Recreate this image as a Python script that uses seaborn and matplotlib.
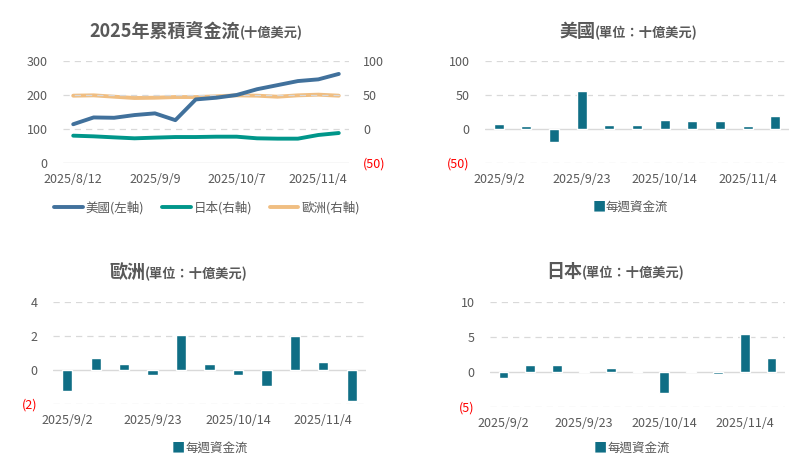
import matplotlib
matplotlib.use("Agg")
import matplotlib.pyplot as plt
import seaborn as sns
import pandas as pd
from matplotlib.lines import Line2D

# cumulative flows, weekly from 2025/8/12
cum_dates = ["2025/8/12", "2025/8/19", "2025/8/26", "2025/9/2", "2025/9/9", "2025/9/16",
             "2025/9/23", "2025/9/30", "2025/10/7", "2025/10/14", "2025/10/21",
             "2025/10/28", "2025/11/4", "2025/11/11"]
cum_us = [114, 134, 133, 141, 146, 126, 187, 192, 200, 217, 229, 241, 246, 262]
cum_jp = [-9.8, -10.8, -12.3, -13.7, -12.7, -11.8, -11.8, -11.3, -11.3, -13.7, -14.2, -14.2, -8.8, -5.9]
cum_eu = [49.0, 49.5, 47.5, 45.6, 46.0, 47.0, 47.0, 48.0, 49.5, 49.0, 47.5, 49.5, 50.5, 49.0]

# weekly flows, from 2025/9/2
week_dates = ["2025/9/2", "2025/9/9", "2025/9/16", "2025/9/23", "2025/9/30", "2025/10/7",
              "2025/10/14", "2025/10/21", "2025/10/28", "2025/11/4", "2025/11/11"]
wk_us = [7.4, 4.4, -18.6, 56.4, 5.9, 5.9, 13.2, 11.8, 11.8, 4.4, 19.1]
wk_eu = [-1.22, 0.73, 0.37, -0.27, 2.08, 0.37, -0.27, -0.96, 2.02, 0.49, -1.8]
wk_jp = [-0.9, 1.04, 1.04, 0.19, 0.61, 0.19, -3.07, 0.19, -0.24, 5.42, 2.03]

sns.set_style("white")
plt.rcParams["font.family"] = ["Noto Sans CJK TC", "DejaVu Sans"]

GRAY = "#595959"
GRID = "#d9d9d9"
BAR = "#0f6e85"
C_US, C_JP, C_EU = "#41719c", "#00968a", "#f0be82"
TICK = 9

W, H = 811, 473
fig = plt.figure(figsize=(W / 100, H / 100), dpi=100)


def box(x0, y0, x1, y1):
    return [x0 / W, 1 - y1 / H, (x1 - x0) / W, (y1 - y0) / H]


def fmt(v):
    return f"({abs(v)})" if v < 0 else f"{v}"


def style_y(ax, ticks, side="left"):
    ax.set_ylim(ticks[0], ticks[-1])
    ax.set_yticks(ticks)
    ax.set_yticklabels([fmt(t) for t in ticks])
    for lab, t in zip(ax.get_yticklabels(), ticks):
        lab.set_color("red" if t < 0 else GRAY)
    ax.tick_params(axis="y", length=0, labelsize=TICK, pad=11 if side == "left" else 10)


def gridlines(ax, ticks, solid):
    for t in ticks:
        if t == solid:
            ax.axhline(t, color=GRID, lw=1, zorder=0.5)
        else:
            ax.axhline(t, color=GRID, lw=0.9, ls=(0, (5, 4)), zorder=0.5)


def title(x, y, big, small):
    fig.text(x / W, 1 - y / H, big, fontsize=13, fontweight="bold", color=GRAY,
             ha="right", va="baseline")
    fig.text(x / W, 1 - y / H, small, fontsize=9.5, fontweight="bold", color=GRAY,
             ha="left", va="baseline")


# ---- cumulative line chart
ax = fig.add_axes(box(63, 61, 349, 163))
ax2 = ax.twinx()
df = pd.DataFrame({"i": range(len(cum_dates)), "us": cum_us, "jp": cum_jp, "eu": cum_eu})
sns.lineplot(data=df, x="i", y="us", ax=ax, color=C_US, lw=2.8, zorder=3)
sns.lineplot(data=df, x="i", y="jp", ax=ax2, color=C_JP, lw=2.8)
sns.lineplot(data=df, x="i", y="eu", ax=ax2, color=C_EU, lw=2.8)
ax.set_zorder(ax2.get_zorder() + 1)
ax.patch.set_visible(False)
lt = [0, 100, 200, 300]
style_y(ax, lt)
gridlines(ax, lt, 0)
style_y(ax2, [-50, 0, 50, 100], side="right")
ax.set_xlim(-0.5, len(cum_dates) - 0.5)
ax.set_xticks([0, 4, 8, 12])
ax.set_xticklabels([cum_dates[i] for i in [0, 4, 8, 12]])
ax.tick_params(axis="x", length=0, labelsize=TICK, colors=GRAY, pad=7)
for a in (ax, ax2):
    a.set_xlabel("")
    a.set_ylabel("")
    for s in a.spines.values():
        s.set_visible(False)
hs = [Line2D([], [], color=c, lw=2.8) for c in (C_US, C_JP, C_EU)]
fig.legend(hs, ["美國(左軸)", "日本(右軸)", "歐洲(右軸)"], loc="center",
           bbox_to_anchor=(207 / W, 1 - 208 / H), ncol=3, frameon=False, fontsize=9,
           labelcolor=GRAY, handlelength=2.3, handletextpad=0.25, columnspacing=1.4)
title(240, 37, "2025年累積資金流", "(十億美元)")


# ---- weekly bar charts
def bars(rect, vals, ticks, name, tx, ty, lx, ly):
    a = fig.add_axes(box(*rect))
    d = pd.DataFrame({"date": week_dates, "v": vals})
    sns.barplot(data=d, x="date", y="v", ax=a, color=BAR, width=0.36, saturation=1, zorder=2)
    style_y(a, ticks)
    gridlines(a, ticks, 0)
    a.set_xlim(-0.5, len(week_dates) - 0.5)
    a.set_xticks([0, 3, 6, 9])
    a.set_xticklabels([week_dates[i] for i in [0, 3, 6, 9]])
    a.tick_params(axis="x", length=0, labelsize=TICK, colors=GRAY, pad=7)
    a.set_xlabel("")
    a.set_ylabel("")
    for s in a.spines.values():
        s.set_visible(False)
    title(tx, ty, name, "(單位：十億美元)")
    fig.text(lx / W, 1 - ly / H, "■", color=BAR, fontsize=9.5, ha="right", va="center")
    fig.text(lx / W, 1 - ly / H, "每週資金流", color=GRAY, fontsize=9, ha="left", va="center")


bars((485, 61, 789, 163), wk_us, [-50, 0, 50, 100], "美國", 595, 37, 606, 208)
bars((53, 302, 366, 404), wk_eu, [-2, 0, 2, 4], "歐洲", 145, 278, 185, 449)
bars((490, 302, 785, 407), wk_jp, [-5, 0, 5, 10], "日本", 582, 277, 607, 449)

fig.savefig("out.png", dpi=100, facecolor="white")
